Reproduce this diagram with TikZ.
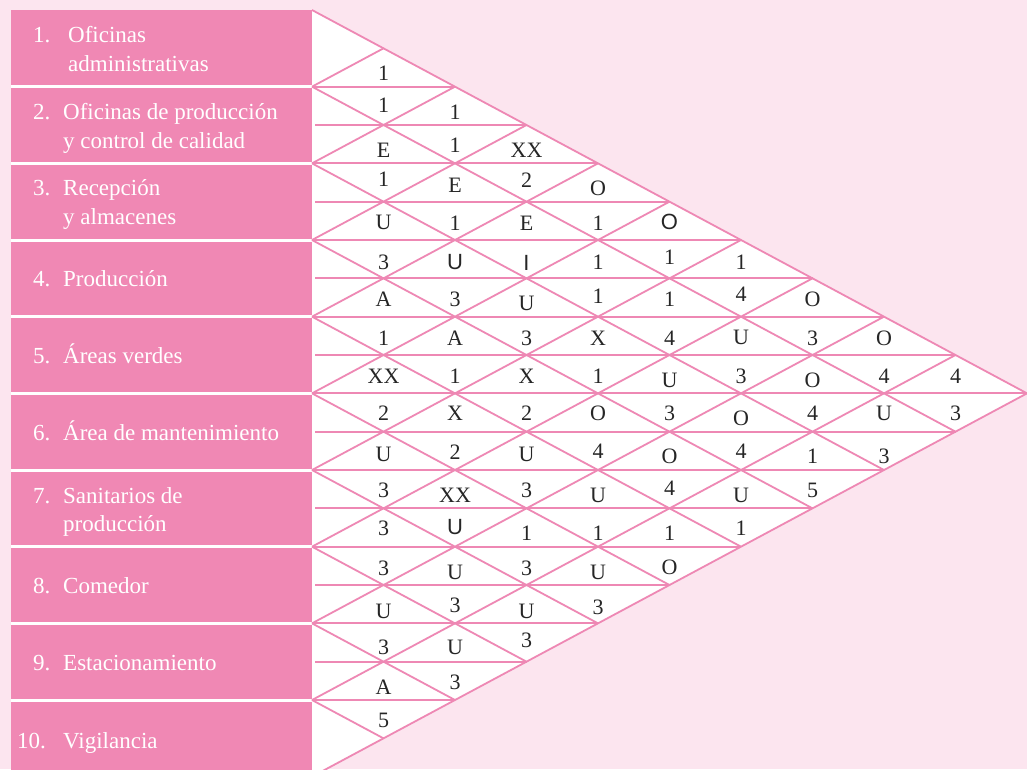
\documentclass[tikz,border=0pt]{standalone}
\usepackage{fontspec}
\setmainfont{Liberation Serif}
\setsansfont{Liberation Sans}
\definecolor{bgpink}{HTML}{FCE5EF}
\definecolor{boxpink}{HTML}{F088B4}
\definecolor{linepink}{HTML}{EE88B4}
\tikzset{
  gridline/.style={draw=linepink, line width=1.8pt},
  boxtxt/.style={text=white, inner sep=0pt, anchor=base west, font=\fontsize{23}{29}\selectfont},
  lbl/.style={text=black!85, inner sep=0pt, anchor=center, font=\fontsize{22}{26}\selectfont},
}
\begin{document}
\begin{tikzpicture}[x=1pt,y=-1pt]
\useasboundingbox (0,0) rectangle (1027,769);
\fill[bgpink] (0,0) rectangle (1027,769);
\begin{scope}
\clip (0,0) rectangle (1027,769);
% left column
\fill[boxpink] (10.5,9.5) rectangle (312,780);
\foreach \k in {1,...,9}{
  \draw[white, line width=3pt] (10.5,{10+\k*76.667}) -- (312,{10+\k*76.667});
}
% chart triangle
\fill[white] (312,10) -- (1027,393.33) -- (312,776.67) -- cycle;
% horizontal lines
\foreach \k in {2,...,18}{
  \pgfmathsetmacro{\xe}{312+71.5*min(\k,20-\k)}
  \pgfmathsetmacro{\xs}{mod(\k,2)==1 ? 315 : 312}
  \draw[gridline] (\xs,{10+\k*38.333}) -- (\xe,{10+\k*38.333});
}
% diagonals
\foreach \m in {0,...,10}{
  \pgfmathsetmacro{\Y}{10+\m*76.667}
  \draw[gridline] (312,\Y) -- ({312+(10-\m)*71.5},{\Y+(10-\m)*38.333});
  \draw[gridline] (312,\Y) -- ({312+\m*71.5},{\Y-\m*38.333});
}
% cell labels
\foreach \n/\j/\d/\t in {
 1/0/5.5/1,
 2/0/-1/1, 2/1/6/1,
 3/0/6/E, 3/1/1/1, 3/2/6/XX,
 4/0/-3/1, 4/1/3/E, 4/2/-2/2, 4/3/6/O,
 5/0/2/U, 5/1/2/1, 5/2/2/E, 5/3/2/1, 5/4/1/{\textsf{O}},
 6/0/3.5/3, 6/1/2.5/{\textsf{U}}, 6/2/3.5/{\textsf{I}}, 6/3/3.5/1, 6/4/-1.5/1, 6/5/3.5/1,
 7/0/2/A, 7/1/2/3, 7/2/6/U, 7/3/-1/1, 7/4/2/1, 7/5/-3/4, 7/6/2/O,
 8/0/2/1, 8/1/2/A, 8/2/2/3, 8/3/2/X, 8/4/2/4, 8/5/2/U, 8/6/2/3, 8/7/2/O,
 9/0/2.5/XX, 9/1/2.5/1, 9/2/2.5/X, 9/3/2.5/1, 9/4/6.5/U, 9/5/2.5/3, 9/6/6.5/O, 9/7/2.5/4, 9/8/2.5/4,
 10/0/0.5/2, 10/1/0.5/X, 10/2/0.5/2, 10/3/0.5/O, 10/4/0.5/3, 10/5/5.5/O, 10/6/0.5/4, 10/7/0.5/U, 10/8/0.5/3,
 11/0/4/U, 11/1/1/2, 11/2/4/U, 11/3/0/4, 11/4/5/O, 11/5/0/4, 11/6/5/1, 11/7/5/3,
 12/0/1/3, 12/1/6/XX, 12/2/1/3, 12/3/6/U, 12/4/-1/4, 12/5/6/U, 12/6/1/5,
 13/0/0.5/3, 13/1/-0.5/{\textsf{U}}, 13/2/5.5/1, 13/3/5.5/1, 13/4/5.5/1, 13/5/0.5/1,
 14/0/2/3, 14/1/7/U, 14/2/2/3, 14/3/7/U, 14/4/1/O,
 15/0/7/U, 15/1/1/3, 15/2/7/U, 15/3/3/3,
 16/0/4.5/3, 16/1/4.5/U, 16/2/-2.5/3,
 17/0/6/A, 17/1/1/3,
 18/0/1/5}{
  \node[lbl] (c\n-\j) at ({383.5+71.5*\j},{10+(\n+0.5)*38.333+\d}) {\t};
}
% row labels
\node[boxtxt] (n1) at (33,42) {1.};
\node[boxtxt] (t1a) at (68,42) {Oficinas};
\node[boxtxt] (t1b) at (68,71) {administrativas};
\node[boxtxt] (n2) at (33,119) {2.};
\node[boxtxt] (t2a) at (63,119) {Oficinas de producción};
\node[boxtxt] (t2b) at (63,148) {y control de calidad};
\node[boxtxt] (n3) at (33,195) {3.};
\node[boxtxt] (t3a) at (63,195) {Recepción};
\node[boxtxt] (t3b) at (63,224) {y almacenes};
\node[boxtxt] (n4) at (33,286.5) {4.};
\node[boxtxt] (t4) at (63,286.5) {Producción};
\node[boxtxt] (n5) at (33,363) {5.};
\node[boxtxt] (t5) at (63,363) {Áreas verdes};
\node[boxtxt] (n6) at (33,440) {6.};
\node[boxtxt] (t6) at (63,440) {Área de mantenimiento};
\node[boxtxt] (n7) at (33,503) {7.};
\node[boxtxt] (t7a) at (63,503) {Sanitarios de};
\node[boxtxt] (t7b) at (63,531) {producción};
\node[boxtxt] (n8) at (33,593) {8.};
\node[boxtxt] (t8) at (63,593) {Comedor};
\node[boxtxt] (n9) at (33,670) {9.};
\node[boxtxt] (t9) at (63,670) {Estacionamiento};
\node[boxtxt] (n10) at (17,748) {10.};
\node[boxtxt] (t10) at (63,748) {Vigilancia};
\end{scope}
\end{tikzpicture}
\end{document}
